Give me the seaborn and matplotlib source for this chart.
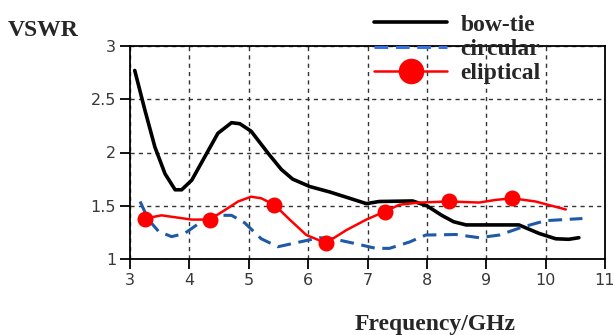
import matplotlib

matplotlib.use("Agg")

import matplotlib.pyplot as plt
import numpy as np
import pandas as pd
import seaborn as sns

# Data (frequency in GHz, VSWR)
bowtie_freq = [3.08, 3.25, 3.42, 3.59, 3.76, 3.87, 4.04, 4.26, 4.48, 4.71, 4.85, 5.04, 5.33,
               5.55, 5.74, 6.03, 6.36, 6.70, 6.98, 7.20, 7.76, 8.0, 8.25, 8.45, 8.66, 9.55,
               9.89, 10.17, 10.39, 10.56]
bowtie_vswr = [2.77, 2.40, 2.05, 1.80, 1.65, 1.65, 1.74, 1.96, 2.18, 2.28, 2.27, 2.20, 1.99,
               1.84, 1.75, 1.68, 1.63, 1.57, 1.52, 1.54, 1.545, 1.50, 1.41, 1.35, 1.32, 1.32,
               1.24, 1.19, 1.185, 1.20]

circular_freq = [3.17, 3.31, 3.48, 3.70, 3.92, 4.20, 4.43, 4.71, 4.93, 5.21, 5.49, 5.86, 6.19,
                 6.42, 6.75, 7.14, 7.37, 7.71, 7.98, 8.49, 8.88, 9.22, 9.61, 10.0, 10.62]
circular_vswr = [1.54, 1.37, 1.26, 1.21, 1.24, 1.35, 1.41, 1.41, 1.34, 1.19, 1.115, 1.16, 1.20,
                 1.19, 1.15, 1.10, 1.10, 1.16, 1.225, 1.23, 1.20, 1.225, 1.30, 1.36, 1.38]

eliptical_freq = [3.25, 3.53, 4.04, 4.34, 4.60, 4.82, 5.04, 5.21, 5.43, 5.69, 5.97, 6.30, 6.64,
                  6.98, 7.29, 7.54, 7.87, 8.37, 8.88, 9.16, 9.44, 9.83, 10.34]
eliptical_vswr = [1.38, 1.41, 1.37, 1.37, 1.46, 1.54, 1.585, 1.57, 1.51, 1.37, 1.225, 1.15, 1.27,
                  1.37, 1.445, 1.51, 1.53, 1.54, 1.53, 1.555, 1.57, 1.54, 1.465]
eliptical_marks = [0, 3, 8, 11, 14, 17, 20]

x_ticks = [3, 4, 5, 6, 7, 8, 9, 10, 11]
y_ticks = [1, 1.5, 2, 2.5, 3]
y_tick_labels = ["1", "1.5", "2", "2.5", "3"]

sns.set_theme(style="ticks")
plt.rcParams["font.family"] = ["DejaVu Sans"]

fig = plt.figure(figsize=(6.15, 3.35), dpi=100)
ax = fig.add_axes([130 / 615, 1 - 259 / 335, 475 / 615, 213 / 335])

sns.lineplot(x=bowtie_freq, y=bowtie_vswr, ax=ax, color="black", lw=2.6,
             label="bow-tie", sort=False)
sns.lineplot(x=circular_freq, y=circular_vswr, ax=ax, color="#1f5aa6", lw=2.2,
             linestyle=(0, (4.5, 2.5)), label="circular", sort=False)
sns.lineplot(x=eliptical_freq, y=eliptical_vswr, ax=ax, color="red", lw=1.8,
             marker="o", markersize=11.5, markeredgewidth=0, markevery=eliptical_marks,
             label="eliptical", sort=False)

ax.set_xlim(3, 11)
ax.set_ylim(1, 3)
ax.set_xticks(x_ticks)
ax.set_yticks(y_ticks)
ax.set_yticklabels(y_tick_labels)
ax.set_xlabel("")
ax.set_ylabel("")

ax.grid(True, color="#333333", linestyle=(0, (3, 3)), linewidth=1)
for side in ["top", "bottom", "left", "right"]:
    ax.spines[side].set_visible(True)
    ax.spines[side].set_color("black")
    ax.spines[side].set_linewidth(1.3)
ax.tick_params(direction="out", length=7, width=1.3, color="black",
               labelsize=11.5, labelcolor="#383838", pad=3)

leg = ax.legend(loc="upper left", bbox_to_anchor=(360 / 615, 1.0), bbox_transform=fig.transFigure,
                frameon=False, borderpad=0.1, handlelength=3.1, handletextpad=0.55,
                labelspacing=0.12, markerscale=1.6,
                prop=dict(family="Liberation Serif", weight="bold", size=17))
leg.get_lines()[1].set_color("#3a6fe0")

fig.text(8 / 615, 1 - 36 / 335, "VSWR", family="Liberation Serif", weight="bold",
         fontsize=17, va="baseline")
fig.text(435 / 615, 1 - 330 / 335, "Frequency/GHz", family="Liberation Serif",
         weight="bold", fontsize=17, va="baseline", ha="center")

fig.savefig("out.png", dpi=100)
plt.close(fig)
